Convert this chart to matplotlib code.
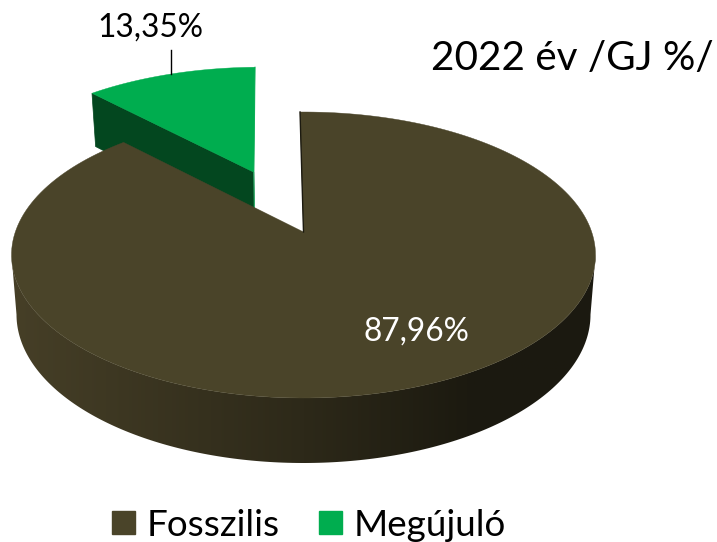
import numpy as np
import matplotlib
matplotlib.use("Agg")
import matplotlib.pyplot as plt
from matplotlib.colors import LinearSegmentedColormap
from matplotlib.patches import Patch, Polygon

# DATA
labels = ['Fosszilis', 'Megújuló']
values = [87.96, 13.35]
title = '2022 év /GJ %/'

# COLOURS
fossil_top = '#4a4429'
green_top = '#00ad4f'
green_side = '#03471f'
side_cmap = LinearSegmentedColormap.from_list(
    'side', [(0, '#463f27'), (0.5, '#2d2919'), (0.78, '#1c1a10'), (1, '#1b1910')])

# PIE GEOMETRY (pixels), top plane and bottom plane of the disc
top_plane = (303.5, 255, 292, 143)
bottom_plane = (303.5, 314.5, 287, 148.5)
persp = 0.161      # where the disc centre falls inside the ellipse
explode = 0.497
start_deg = -0.8
green_nudge = 0.6
green_end_deg = 358.7


# Disc coordinates to pixels, straight lines stay straight
def project(x, y, plane):
    cx, cy, rx, ry = plane
    d = 1 + persp * y
    u = x * np.sqrt(1 - persp ** 2) / d
    v = (y + persp) / d
    return np.column_stack([cx + rx * u, cy - ry * v])


# Points of a slice outline, angles clockwise from the top
def slice_xy(a0, a1, offset=(0, 0), n=200):
    t = np.radians(np.linspace(a0, a1, n))
    x = np.r_[0, np.sin(t), 0] + offset[0]
    y = np.r_[0, np.cos(t), 0] + offset[1]
    return x, y


fig = plt.figure(figsize=(7.17, 5.42), dpi=100)
ax = fig.add_axes([0, 0, 1, 1])
ax.set_xlim(0, 717)
ax.set_ylim(542, 0)
ax.axis('off')
plt.rcParams['font.family'] = ['Lato', 'DejaVu Sans']

sweep = values[0] / 100 * 360
end_deg = start_deg + sweep
mid = np.radians(end_deg + green_nudge + (360 - sweep) / 2)
offset = (explode * np.sin(mid), explode * np.cos(mid))

# GREEN SLICE
gx, gy = slice_xy(end_deg + green_nudge, green_end_deg, offset)
g_top = project(gx, gy, top_plane)
g_bot = project(gx, gy, bottom_plane)
apex = g_top[0]
left = g_top[1]
apex_b = g_bot[0]
left_b = g_bot[1]
ax.add_patch(Polygon([left, apex, apex_b, left_b], fc=green_side, ec=green_side, lw=0.5, zorder=2))
ax.plot([g_top[-2][0], apex[0], apex_b[0]], [g_top[-2][1], apex[1], apex_b[1]],
        color='#2fb56d', lw=0.8, zorder=2)
ax.add_patch(Polygon(g_top, fc=green_top, ec=green_top, lw=0.3, zorder=3))

# FOSSIL SLICE, side wall first and then the top
t = np.linspace(-np.pi / 2, np.pi / 2, 200)
front_top = np.column_stack([top_plane[0] + top_plane[2] * np.sin(t), top_plane[1] + top_plane[3] * np.cos(t)])
front_bot = np.column_stack([bottom_plane[0] + bottom_plane[2] * np.sin(t), bottom_plane[1] + bottom_plane[3] * np.cos(t)])
wall = Polygon(np.vstack([front_top, front_bot[::-1]]), fc='none', ec='none')
ax.add_patch(wall)
grad = ax.imshow(np.linspace(0, 1, 256)[None, :], cmap=side_cmap, aspect='auto',
                 extent=(12, 596, 480, 240), zorder=4)
grad.set_clip_path(wall)
ax.set_xlim(0, 717)
ax.set_ylim(542, 0)

fx, fy = slice_xy(start_deg, end_deg)
f_top = project(fx, fy, top_plane)
ax.add_patch(Polygon(f_top, fc=fossil_top, ec=fossil_top, lw=0.3, zorder=5))
ax.plot([f_top[1][0], f_top[0][0]], [f_top[1][1], f_top[0][1]], color='#1c1a10', lw=1, zorder=6)

# LABELS
label_texts = [f'{v:.2f}%'.replace('.', ',') for v in values]
ax.text(416, 332, label_texts[0], color='white', fontsize=22.8, ha='center', va='center', zorder=7)
ax.text(150, 28, label_texts[1], color='black', fontsize=22.8, ha='center', va='center', zorder=7)
ax.plot([170.5, 170.5], [50, 74], color='black', lw=1, zorder=7)
ax.text(572, 59, title, color='black', fontsize=29.2, ha='center', va='center', zorder=7)

# LEGEND
handles = [Patch(color=fossil_top, label=labels[0]), Patch(color=green_top, label=labels[1])]
ax.legend(handles=handles, ncols=2, frameon=False, loc='center', bbox_to_anchor=(309 / 717, 1 - 525 / 542),
          fontsize=26.6, handlelength=0.62, handleheight=0.62, handletextpad=0.32, columnspacing=1.04,
          borderpad=0, labelcolor='black')

fig.savefig('out.png', dpi=100)
